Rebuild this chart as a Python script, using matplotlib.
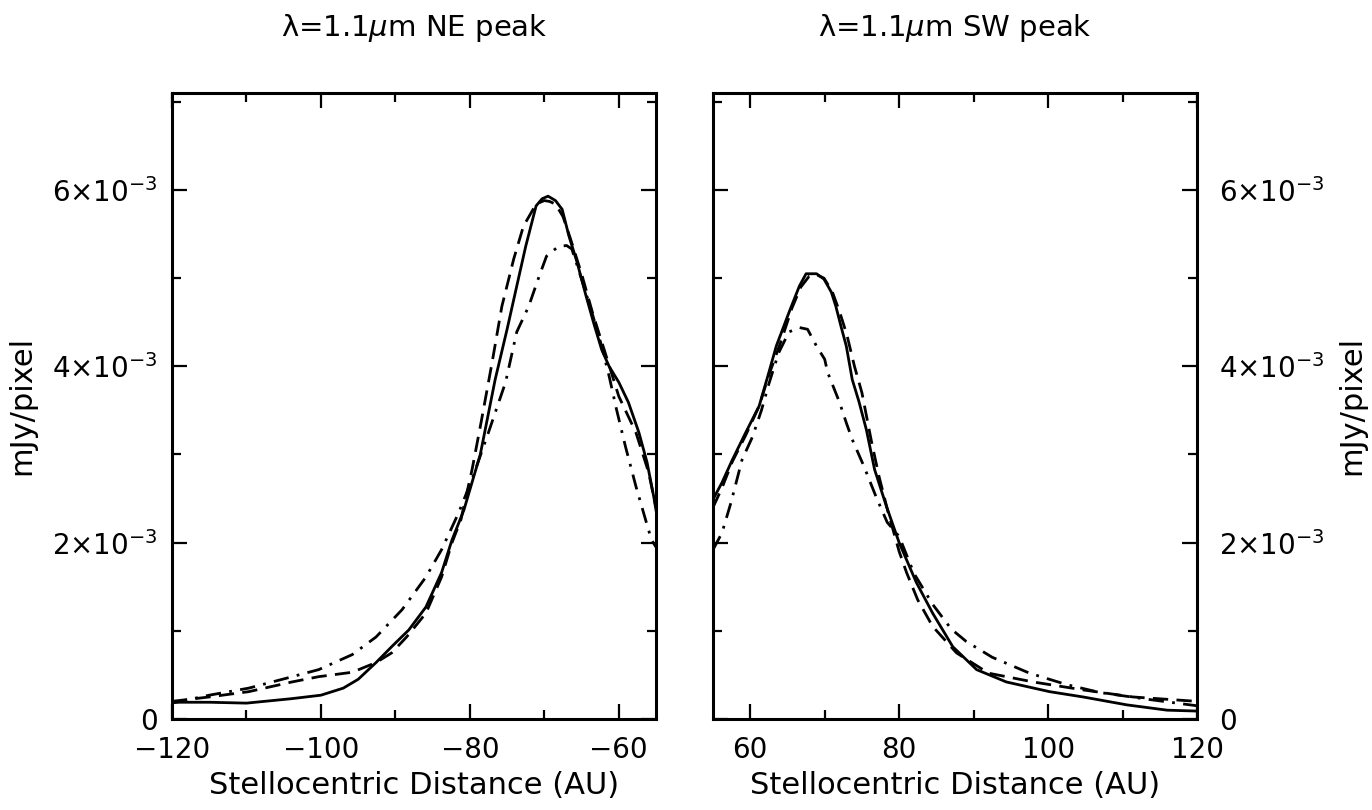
import matplotlib
matplotlib.use("Agg")
import matplotlib.pyplot as plt
from matplotlib.ticker import MultipleLocator, FixedLocator

plt.rcParams['font.family'] = ['DejaVu Sans']
plt.rcParams['mathtext.fontset'] = 'dejavusans'

# ---------------- data (values in units of 1e-3 mJy/pixel) ----------------
ne_solid_x = [-120, -115, -110, -104, -100, -97, -95, -92.6, -90.5, -88.2, -85.9, -83.8,
              -82.4, -80.8, -78.6, -76.6, -75.0, -73.7, -72.5, -71.1, -70.3, -69.5,
              -68.5, -67.6, -66.7, -65.6, -64.4, -63.4, -62.3, -61.3, -60.0, -58.7,
              -57.3, -56.2, -55.3, -55]
ne_solid_y = [0.19, 0.19, 0.18, 0.23, 0.27, 0.35, 0.45, 0.64, 0.82, 1.01, 1.27, 1.66,
              2.03, 2.37, 3.00, 3.85, 4.42, 4.91, 5.36, 5.82, 5.90, 5.93,
              5.88, 5.78, 5.48, 5.18, 4.80, 4.50, 4.19, 4.00, 3.82, 3.59,
              3.25, 2.91, 2.52, 2.37]

ne_dash_x = [-120, -115, -109.7, -103.9, -100.3, -95.8, -92.6, -90.5, -88.5, -85.9, -83.8,
             -82.4, -81.2, -79.7, -78.5, -77.0, -75.7, -74.1, -72.8, -71.1, -70.0, -69.3,
             -68.5, -67.5, -66.5, -65.0, -63.5, -62.0, -60.0, -57.7, -56.0, -55]
ne_dash_y = [0.20, 0.25, 0.31, 0.42, 0.48, 0.53, 0.64, 0.75, 0.93, 1.20, 1.61,
             2.00, 2.26, 2.83, 3.36, 4.05, 4.68, 5.22, 5.59, 5.84, 5.88, 5.87,
             5.84, 5.70, 5.45, 5.05, 4.60, 4.20, 3.66, 3.25, 2.80, 2.40]

ne_dd_x = [-120, -115, -109.7, -104.3, -100.3, -95.8, -92.6, -89.1, -85.9, -83.8, -81.5,
           -79.7, -77.5, -75.2, -73.7, -72.1, -70.7, -69.7, -68.1, -67.0, -66.3, -65.0,
           -63.6, -62.3, -61.3, -60.3, -59.1, -57.7, -56.4, -55.6, -55]
ne_dd_y = [0.18, 0.27, 0.35, 0.47, 0.56, 0.73, 0.93, 1.24, 1.61, 1.92, 2.34,
           2.72, 3.25, 3.82, 4.39, 4.68, 5.02, 5.25, 5.36, 5.37, 5.33, 4.99,
           4.61, 4.23, 3.89, 3.51, 3.09, 2.64, 2.26, 2.03, 1.95]

sw_solid_x = [55, 56.2, 57.6, 59.4, 61.2, 62.5, 63.5, 65.2, 66.6, 67.5, 68.9, 69.9, 70.9,
              71.5, 72.2, 72.9, 73.7, 74.6, 75.6, 76.7, 78.3, 80.0, 82.3, 84.5, 87.2,
              90.4, 94.4, 100.2, 104.7, 110.6, 116, 120]
sw_solid_y = [2.49, 2.68, 2.94, 3.25, 3.55, 3.93, 4.23, 4.61, 4.91, 5.05, 5.05, 4.99, 4.84,
              4.68, 4.45, 4.23, 3.85, 3.60, 3.28, 2.83, 2.41, 2.00, 1.55, 1.20, 0.82,
              0.56, 0.42, 0.31, 0.25, 0.16, 0.10, 0.09]

sw_dash_x = [55, 56.2, 57.6, 59.4, 61.2, 62.5, 64.2, 65.6, 66.8, 67.9, 68.9, 69.9, 71.0,
             72.0, 73.0, 74.0, 75.0, 76.3, 77.3, 78.5, 80.0, 81.0, 82.5, 84.5, 87.7,
             92.0, 98.0, 104.7, 111.4, 120]
sw_dash_y = [2.40, 2.62, 2.92, 3.22, 3.55, 3.90, 4.30, 4.66, 4.90, 5.02, 5.04, 5.00, 4.85,
             4.62, 4.35, 4.00, 3.70, 3.14, 2.75, 2.35, 1.90, 1.66, 1.35, 1.05, 0.75,
             0.52, 0.42, 0.33, 0.25, 0.20]

sw_dd_x = [55, 56.2, 57.4, 58.9, 60.3, 61.5, 62.5, 63.8, 65.2, 66.6, 67.7, 68.9, 70.0,
           70.4, 72.0, 72.9, 73.7, 75.3, 76.9, 78.4, 80.0, 82.0, 84.5, 87.0, 89.0,
           92.5, 97.5, 102.5, 107.0, 113.7, 120]
sw_dd_y = [1.92, 2.11, 2.45, 2.94, 3.20, 3.50, 3.80, 4.15, 4.39, 4.44, 4.42, 4.23, 4.08,
           3.93, 3.59, 3.36, 3.17, 2.86, 2.52, 2.23, 2.07, 1.65, 1.30, 1.02, 0.88,
           0.70, 0.52, 0.39, 0.30, 0.22, 0.15]

titles = ["λ=1.1$\\mu$m NE peak", "λ=1.1$\\mu$m SW peak"]
xlabel = "Stellocentric Distance (AU)"
ylabel = "mJy/pixel"
ytick_vals = [0, 2e-3, 4e-3, 6e-3]
ytick_labels = ["0", "$2{\\times}10^{-3}$", "$4{\\times}10^{-3}$", "$6{\\times}10^{-3}$"]

# ---------------- figure ----------------
W, H = 1372, 810
fig = plt.figure(figsize=(W / 100, H / 100), dpi=100)
axL = fig.add_axes([172/W, 1-719/H, (656-172)/W, (719-93)/H])
axR = fig.add_axes([713/W, 1-719/H, (1197-713)/W, (719-93)/H])

fs_tick = 20
fs_label = 22
fs_title = 21
lw = 2.0
dash = (0, (5.5, 3))
dashdot = (0, (5.5, 3, 1.0, 3))

def scale(v):
    return [a * 1e-3 for a in v]

panels = [
    (axL, (ne_solid_x, ne_solid_y), (ne_dash_x, ne_dash_y), (ne_dd_x, ne_dd_y), (-120, -55)),
    (axR, (sw_solid_x, sw_solid_y), (sw_dash_x, sw_dash_y), (sw_dd_x, sw_dd_y), (55, 120)),
]

for i, (ax, s, d, dd, xl) in enumerate(panels):
    ax.plot(s[0], scale(s[1]), color='black', lw=lw, ls='-')
    ax.plot(d[0], scale(d[1]), color='black', lw=lw, ls=dash)
    ax.plot(dd[0], scale(dd[1]), color='black', lw=lw, ls=dashdot)
    ax.set_xlim(*xl)
    ax.set_ylim(0, 7.1e-3)
    ax.xaxis.set_major_locator(MultipleLocator(20))
    ax.xaxis.set_minor_locator(MultipleLocator(10))
    ax.yaxis.set_major_locator(FixedLocator(ytick_vals))
    ax.yaxis.set_minor_locator(MultipleLocator(1e-3))
    ax.set_yticklabels(ytick_labels)
    ax.tick_params(which='both', direction='in', top=True, bottom=True, left=True, right=True,
                   width=1.6, labelsize=fs_tick, color='black')
    ax.tick_params(which='major', length=11)
    ax.tick_params(which='minor', length=6.5)
    ax.tick_params(axis='x', pad=12)
    for sp in ax.spines.values():
        sp.set_linewidth(2.2)
    ax.set_xlabel(xlabel, fontsize=fs_label, labelpad=5)

for ax, t in zip((axL, axR), titles):
    pos = ax.get_position()
    fig.text((pos.x0 + pos.x1) / 2, 1 - 28 / H, t, fontsize=fs_title, ha='center', va='center')

axL.tick_params(axis='y', labelleft=True, labelright=False, pad=10)
axR.tick_params(axis='y', labelleft=False, labelright=True, pad=16)

fig.text(22 / W, 1 - 405 / H, ylabel, fontsize=fs_label, rotation=90, ha='center', va='center')
fig.text(1352 / W, 1 - 405 / H, ylabel, fontsize=fs_label, rotation=90, ha='center', va='center')

fig.savefig("out.png", dpi=100)
